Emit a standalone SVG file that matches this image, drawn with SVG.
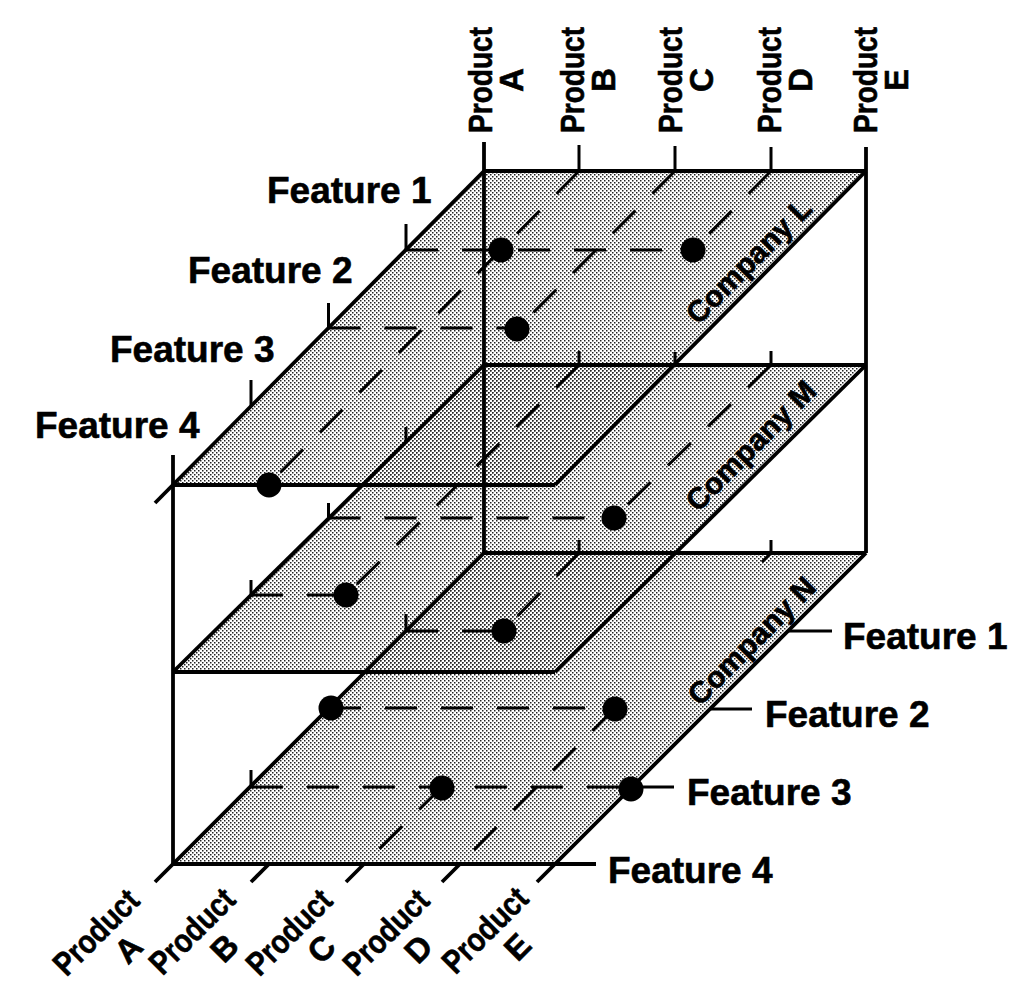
<svg xmlns="http://www.w3.org/2000/svg" width="1030" height="982" viewBox="0 0 1030 982">
<defs>
<pattern id="stip" width="4" height="4" patternUnits="userSpaceOnUse">
<rect x="0" y="0" width="1.5" height="1.5" fill="#222"/>
<rect x="2" y="2" width="1.5" height="1.5" fill="#222"/>
</pattern>
</defs>
<style>
.fill{fill:url(#stip);stroke:none}
.edge{stroke:#000;stroke-width:3.8;fill:none}
.dash{stroke:#000;stroke-width:3;stroke-dasharray:32 24;fill:none}
.tick{stroke:#000;stroke-width:3;fill:none}
.dot{fill:#000}
.lbl{font-family:"Liberation Sans",Arial,Helvetica,sans-serif;font-weight:bold;fill:#000;stroke:#000;stroke-width:0.6}
.feat{font-size:37px}
.prod{font-size:33px}
.comp{font-size:30px}
</style>
<rect width="1030" height="982" fill="#fff"/>

<g id="fills">
<polygon class="fill" points="484,553 866,553 555,864 173,864"/>
<polygon class="fill" points="484,365 866,365 555,672 173,672"/>
<polygon class="fill" points="484,171 866,171 555,485 173,485"/>
</g>

<g id="connectors">
<!-- axes -->
<line class="edge" x1="173" y1="455" x2="173" y2="864"/>
<line class="edge" x1="484" y1="142" x2="484" y2="553"/>
<line class="edge" x1="866" y1="147" x2="866" y2="553"/>
<line class="tick" x1="579" y1="145" x2="579" y2="171"/>
<line class="tick" x1="675" y1="146" x2="675" y2="171"/>
<line class="tick" x1="771" y1="147" x2="771" y2="171"/>

<!-- layer L edges -->
<line class="edge" x1="484" y1="171" x2="866" y2="171"/>
<line class="edge" x1="866" y1="171" x2="555" y2="485"/>
<line class="edge" x1="173" y1="485" x2="555" y2="485"/>
<line class="edge" x1="484" y1="171" x2="155" y2="503"/>
<line class="tick" x1="406" y1="224" x2="406" y2="250"/>
<line class="tick" x1="328.5" y1="303" x2="328.5" y2="328"/>
<line class="tick" x1="251" y1="380" x2="251" y2="406"/>

<!-- layer M edges -->
<line class="edge" x1="484" y1="365" x2="866" y2="365"/>
<line class="edge" x1="866" y1="365" x2="555" y2="672"/>
<line class="edge" x1="173" y1="672" x2="555" y2="672"/>
<line class="edge" x1="484" y1="365" x2="173" y2="672"/>
<line class="tick" x1="579" y1="351" x2="579" y2="365"/>
<line class="tick" x1="675" y1="352" x2="675" y2="365"/>
<line class="tick" x1="771" y1="351" x2="771" y2="365"/>
<line class="tick" x1="406" y1="427" x2="406" y2="442"/>
<line class="tick" x1="328.5" y1="503" x2="328.5" y2="518"/>
<line class="tick" x1="251" y1="580" x2="251" y2="595"/>

<!-- layer N edges -->
<line class="edge" x1="484" y1="553" x2="866" y2="553"/>
<line class="edge" x1="866" y1="553" x2="537" y2="882"/>
<line class="edge" x1="173" y1="864" x2="596" y2="864"/>
<line class="edge" x1="484" y1="553" x2="155" y2="882"/>
<line class="tick" x1="579" y1="540" x2="579" y2="553"/>
<line class="tick" x1="771" y1="540" x2="771" y2="553"/>
<line class="tick" x1="406" y1="614" x2="406" y2="631"/>
<line class="tick" x1="251" y1="770" x2="251" y2="787"/>
<line class="edge" x1="269" y1="864" x2="251" y2="882"/>
<line class="edge" x1="364" y1="864" x2="346" y2="882"/>
<line class="edge" x1="460" y1="864" x2="442" y2="882"/>
<line class="tick" x1="788" y1="631" x2="832" y2="631"/>
<line class="tick" x1="711" y1="709" x2="752" y2="709"/>
<line class="tick" x1="633" y1="787" x2="674" y2="787"/>

<!-- dashed grid lines L -->
<line class="dash" x1="406" y1="250" x2="693" y2="250"/>
<line class="dash" x1="328.5" y1="328" x2="518" y2="328"/>
<line class="dash" x1="579" y1="171" x2="268" y2="485"/>
<line class="dash" x1="675" y1="171" x2="518" y2="328"/>
<line class="dash" x1="771" y1="171" x2="693" y2="250"/>
<!-- dashed grid lines M -->
<line class="dash" x1="328.5" y1="518" x2="614" y2="518"/>
<line class="dash" x1="251" y1="595" x2="346" y2="595"/>
<line class="dash" x1="579" y1="365" x2="346" y2="595"/>
<line class="dash" x1="771" y1="365" x2="614" y2="518"/>
<!-- dashed grid lines N -->
<line class="dash" x1="406" y1="631" x2="503" y2="631"/>
<line class="dash" x1="579" y1="553" x2="503" y2="631"/>
<line class="dash" x1="329" y1="708" x2="615" y2="708"/>
<line class="dash" x1="615" y1="708" x2="460" y2="864"/>
<line class="tick" x1="771" y1="553" x2="762" y2="562"/>
<line class="dash" x1="251" y1="787" x2="632" y2="787"/>
<line class="dash" x1="442" y1="787" x2="364" y2="864"/>
</g>

<g id="dots">
<circle class="dot" cx="501" cy="250" r="12.5"/>
<circle class="dot" cx="693" cy="250" r="12.5"/>
<circle class="dot" cx="517" cy="329" r="12.5"/>
<circle class="dot" cx="269" cy="485" r="12.5"/>
<circle class="dot" cx="614" cy="518" r="12.5"/>
<circle class="dot" cx="346" cy="595" r="12.5"/>
<circle class="dot" cx="504" cy="631" r="12.5"/>
<circle class="dot" cx="331" cy="708" r="12.5"/>
<circle class="dot" cx="615" cy="709" r="12.5"/>
<circle class="dot" cx="442" cy="788" r="12.5"/>
<circle class="dot" cx="631" cy="789" r="12.5"/>
</g>

<g id="company-labels" class="lbl comp" text-anchor="middle">
<text transform="translate(756,268) rotate(-45)">Company L</text>
<text transform="translate(758,453) rotate(-45)">Company M</text>
<text transform="translate(759,648) rotate(-45)">Company N</text>
</g>

<g id="feature-labels-left" class="lbl feat">
<text x="267" y="203">Feature 1</text>
<text x="188" y="283">Feature 2</text>
<text x="110" y="362">Feature 3</text>
<text x="35" y="438">Feature 4</text>
</g>

<g id="feature-labels-right" class="lbl feat">
<text x="843" y="649">Feature 1</text>
<text x="765" y="727">Feature 2</text>
<text x="687" y="805">Feature 3</text>
<text x="608" y="883">Feature 4</text>
</g>

<g id="product-labels-top" class="lbl prod" text-anchor="middle">
<g transform="translate(492,80) rotate(-90)"><text textLength="106" lengthAdjust="spacingAndGlyphs">Product</text><text y="31">A</text></g>
<g transform="translate(584,80) rotate(-90)"><text textLength="106" lengthAdjust="spacingAndGlyphs">Product</text><text y="31">B</text></g>
<g transform="translate(682,80) rotate(-90)"><text textLength="106" lengthAdjust="spacingAndGlyphs">Product</text><text y="31">C</text></g>
<g transform="translate(781,80) rotate(-90)"><text textLength="106" lengthAdjust="spacingAndGlyphs">Product</text><text y="31">D</text></g>
<g transform="translate(877,80) rotate(-90)"><text textLength="106" lengthAdjust="spacingAndGlyphs">Product</text><text y="31">E</text></g>
</g>

<g id="product-labels-bottom" class="lbl prod" text-anchor="middle">
<g transform="translate(104,940) rotate(-45)"><text textLength="106" lengthAdjust="spacingAndGlyphs">Product</text><text x="11" y="35">A</text></g>
<g transform="translate(200,939) rotate(-45)"><text textLength="106" lengthAdjust="spacingAndGlyphs">Product</text><text x="11" y="35">B</text></g>
<g transform="translate(297,940) rotate(-45)"><text textLength="106" lengthAdjust="spacingAndGlyphs">Product</text><text x="11" y="35">C</text></g>
<g transform="translate(394,940) rotate(-45)"><text textLength="106" lengthAdjust="spacingAndGlyphs">Product</text><text x="11" y="35">D</text></g>
<g transform="translate(493,938) rotate(-45)"><text textLength="106" lengthAdjust="spacingAndGlyphs">Product</text><text x="11" y="35">E</text></g>
</g>
</svg>
